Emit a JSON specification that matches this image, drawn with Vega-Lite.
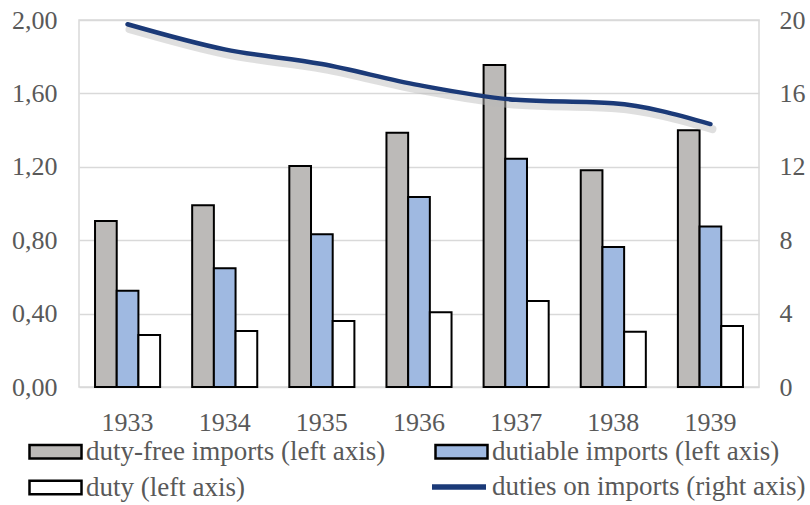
{
  "$schema": "https://vega.github.io/schema/vega-lite/v6.json",
  "autosize": {"type": "none"},
  "width": 680,
  "height": 367,
  "padding": {"left": 79, "top": 20, "right": 51, "bottom": 118},
  "background": "white",
  "config": {
    "font": "Liberation Serif",
    "view": {"stroke": "#d9d9d9", "strokeWidth": 1.5},
    "axis": {"labelFont": "Liberation Serif", "labelFontSize": 26, "labelColor": "#595959", "ticks": false, "tickSize": 0, "domain": false, "title": null},
    "legend": {"labelFont": "Liberation Serif", "labelFontSize": 27, "labelColor": "#595959", "padding": 0, "title": null}
  },
  "datasets": {
    "bars": [
      {"year": "1933", "series": "duty-free imports (left axis)", "value": 0.905},
      {"year": "1933", "series": "dutiable imports (left axis)", "value": 0.525},
      {"year": "1933", "series": "duty (left axis)", "value": 0.283},
      {"year": "1934", "series": "duty-free imports (left axis)", "value": 0.99},
      {"year": "1934", "series": "dutiable imports (left axis)", "value": 0.647},
      {"year": "1934", "series": "duty (left axis)", "value": 0.305},
      {"year": "1935", "series": "duty-free imports (left axis)", "value": 1.204},
      {"year": "1935", "series": "dutiable imports (left axis)", "value": 0.832},
      {"year": "1935", "series": "duty (left axis)", "value": 0.36},
      {"year": "1936", "series": "duty-free imports (left axis)", "value": 1.386},
      {"year": "1936", "series": "dutiable imports (left axis)", "value": 1.035},
      {"year": "1936", "series": "duty (left axis)", "value": 0.407},
      {"year": "1937", "series": "duty-free imports (left axis)", "value": 1.755},
      {"year": "1937", "series": "dutiable imports (left axis)", "value": 1.244},
      {"year": "1937", "series": "duty (left axis)", "value": 0.469},
      {"year": "1938", "series": "duty-free imports (left axis)", "value": 1.181},
      {"year": "1938", "series": "dutiable imports (left axis)", "value": 0.763},
      {"year": "1938", "series": "duty (left axis)", "value": 0.301},
      {"year": "1939", "series": "duty-free imports (left axis)", "value": 1.399},
      {"year": "1939", "series": "dutiable imports (left axis)", "value": 0.874},
      {"year": "1939", "series": "duty (left axis)", "value": 0.332}
    ],
    "rate": [
      {"year": "1933", "line_series": "duties on imports (right axis)", "rate": 19.77},
      {"year": "1934", "line_series": "duties on imports (right axis)", "rate": 18.4},
      {"year": "1935", "line_series": "duties on imports (right axis)", "rate": 17.6},
      {"year": "1936", "line_series": "duties on imports (right axis)", "rate": 16.45},
      {"year": "1937", "line_series": "duties on imports (right axis)", "rate": 15.65},
      {"year": "1938", "line_series": "duties on imports (right axis)", "rate": 15.46},
      {"year": "1939", "line_series": "duties on imports (right axis)", "rate": 14.33}
    ]
  },
  "encoding": {
    "x": {
      "field": "year", "type": "nominal",
      "scale": {"paddingInner": 0.33, "paddingOuter": 0.165},
      "axis": {"labelAngle": 0, "labelPadding": 22, "grid": false}
    }
  },
  "layer": [
    {
      "data": {"name": "bars"},
      "transform": [{"filter": "datum.series != 'duty (left axis)'"}],
      "mark": {"type": "bar", "stroke": "black", "strokeWidth": 2},
      "encoding": {
        "xOffset": {
          "field": "series", "type": "nominal",
          "scale": {"domain": ["duty-free imports (left axis)", "dutiable imports (left axis)", "duty (left axis)"], "paddingInner": 0, "paddingOuter": 0}
        },
        "y": {
          "field": "value", "type": "quantitative",
          "scale": {"domain": [0, 2], "nice": false, "zero": true},
          "axis": {
            "orient": "left", "values": [0, 0.4, 0.8, 1.2, 1.6, 2.0],
            "labelExpr": "replace(format(datum.value, '.2f'), '.', ',')",
            "labelPadding": 22, "grid": true, "gridColor": "#d9d9d9", "gridWidth": 1.5
          }
        },
        "fill": {
          "field": "series", "type": "nominal",
          "scale": {
            "domain": ["duty-free imports (left axis)", "dutiable imports (left axis)"],
            "range": ["#bcbab8", "#9fb9e1"]
          },
          "legend": {
            "orient": "none",
            "legendX": -51,
            "legendY": 404,
            "columns": 2,
            "direction": "horizontal",
            "columnPadding": 44,
            "labelOffset": 3,
            "labelLimit": 400,
            "symbolType": "M-1,-0.26H1V0.26H-1Z",
            "symbolSize": 2704,
            "symbolOpacity": 1,
            "symbolStrokeColor": "#000000",
            "symbolStrokeWidth": 2.5
          }
        }
      }
    },
    {
      "data": {"name": "bars"},
      "transform": [{"filter": "datum.series == 'duty (left axis)'"}],
      "mark": {"type": "bar", "stroke": "black", "strokeWidth": 2},
      "encoding": {
        "xOffset": {
          "field": "series", "type": "nominal",
          "scale": {"domain": ["duty-free imports (left axis)", "dutiable imports (left axis)", "duty (left axis)"], "paddingInner": 0, "paddingOuter": 0}
        },
        "y": {"field": "value", "type": "quantitative", "scale": {"domain": [0, 2], "nice": false, "zero": true}, "axis": null},
        "fill": {
          "field": "series", "type": "nominal",
          "scale": {"domain": ["duty (left axis)"], "range": ["#ffffff"]},
          "legend": {
            "orient": "none",
            "legendX": -51,
            "legendY": 440,
            "labelOffset": 3,
            "labelLimit": 400,
            "symbolType": "M-1,-0.26H1V0.26H-1Z",
            "symbolSize": 2704,
            "symbolOpacity": 1,
            "symbolStrokeColor": "#000000",
            "symbolStrokeWidth": 2.5
          }
        }
      }
    },
    {
      "data": {"name": "rate"},
      "mark": {"type": "line", "stroke": "#b8b8b8", "strokeWidth": 8, "opacity": 0.45, "xOffset": 2, "yOffset": 5, "interpolate": "monotone", "strokeCap": "round"},
      "encoding": {
        "y": {"field": "rate", "type": "quantitative", "scale": {"domain": [0, 20], "nice": false}, "axis": null}
      }
    },
    {
      "data": {"name": "rate"},
      "mark": {"type": "line", "strokeWidth": 4.5, "interpolate": "monotone", "strokeCap": "round"},
      "encoding": {
        "y": {
          "field": "rate", "type": "quantitative",
          "scale": {"domain": [0, 20], "nice": false},
          "axis": {"orient": "right", "values": [0, 4, 8, 12, 16, 20], "labelPadding": 20, "grid": false, "format": "d"}
        },
        "stroke": {
          "field": "line_series", "type": "nominal",
          "scale": {"range": ["#1b3a78"]},
          "legend": {
            "orient": "none",
            "legendX": 350,
            "legendY": 437,
            "labelOffset": 3,
            "labelLimit": 400,
            "symbolType": "stroke",
            "symbolSize": 2916,
            "symbolStrokeWidth": 5.5,
            "symbolOpacity": 1
          }
        }
      }
    }
  ],
  "resolve": {"scale": {"y": "independent", "fill": "independent"}, "legend": {"fill": "independent"}}
}
